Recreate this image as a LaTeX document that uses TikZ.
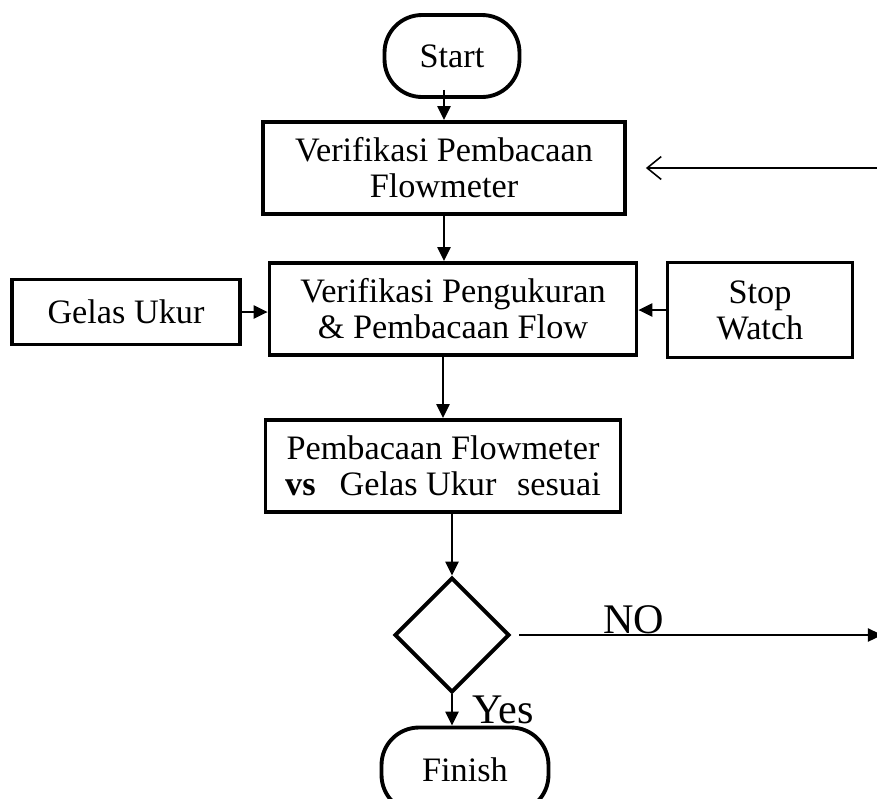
\documentclass[tikz,border=0pt]{standalone}
\usepackage{fontspec}
\setmainfont{Liberation Serif}
\usepackage{tikz}
\usetikzlibrary{arrows.meta,positioning,shapes.geometric,calc}
\tikzset{
  procbox/.style={draw, line width=2.2pt, inner sep=0pt, align=center, font=\flowfont},
  termbox/.style={draw, line width=2.2pt, rounded corners=0.75cm, inner sep=0pt, font=\flowfont},
  decbox/.style={draw, diamond, aspect=1, line width=2.2pt, inner sep=0pt, minimum size=2.3cm},
  flowarr/.style={-{Triangle[length=8pt, width=7.5pt]}, line width=1.1pt},
  backarr/.style={-{Straight Barb[length=8pt, width=13pt]}, line width=0.9pt},
  answer/.style={font=\answerfont, inner sep=1pt},
}
\newcommand{\flowfont}{\fontsize{19.5}{20.5}\selectfont}
\newcommand{\answerfont}{\fontsize{24}{26}\selectfont}

\begin{document}
\begin{tikzpicture}[x=0.02cm, y=-0.02cm]
\useasboundingbox (0,0) rectangle (877,799);
\clip (0,0) rectangle (877,799);
% --- main column ---
\node[termbox, minimum width=2.7cm, minimum height=1.64cm] (start) at (452,56) {Start};
\node[procbox, minimum width=7.24cm, minimum height=1.84cm] (verflow) at (444,168) {Verifikasi Pembacaan\\Flowmeter};
\node[procbox, minimum width=7.34cm, minimum height=1.84cm] (verukur) at (453,309) {Verifikasi Pengukuran\\\& Pembacaan Flow};
\node[procbox, minimum width=7.1cm, minimum height=1.84cm] (banding) at (443,466) {Pembacaan Flowmeter\\\textbf{vs}\hspace{0.7em}Gelas Ukur\hspace{0.6em}sesuai};
\node[decbox] (cek) at (452,635) {};
\node[termbox, minimum width=3.34cm, minimum height=1.7cm] (finish) at (465,770) {Finish};
% --- side inputs ---
\node[procbox, minimum width=4.56cm, minimum height=1.3cm] (gelas) at (126,312) {Gelas Ukur};
\node[procbox, minimum width=3.7cm, minimum height=1.9cm] (stopw) at (760,310) {Stop\\Watch};
% --- loose ends at the page edge ---
\coordinate (noend) at (882,635);
\coordinate (backstart) at (880,168);
% --- connectors ---
\draw[flowarr] ([yshift=0.18cm]start.south -| verflow.north) -- (verflow.north);
\draw[flowarr] (verflow.south) -- (verflow.south |- verukur.north);
\draw[flowarr] (gelas.east) -- (gelas.east -| verukur.west);
\draw[flowarr] (stopw.west) -- (stopw.west -| verukur.east);
\draw[flowarr] (verukur.south -| banding.north) -- (banding.north);
\draw[flowarr] (banding.south -| cek.north) -- (cek.north);
\draw[flowarr] (cek.south) -- (cek.south |- finish.north) node[answer, pos=0.5, right=0.35cm] {Yes};
\draw[flowarr, shorten <=0.16cm] (cek.east) -- (noend) node[answer, pos=0.33, above=-1pt] {NO};
\draw[backarr] (backstart) -- ([xshift=0.38cm]verflow.east);
\end{tikzpicture}
\end{document}
